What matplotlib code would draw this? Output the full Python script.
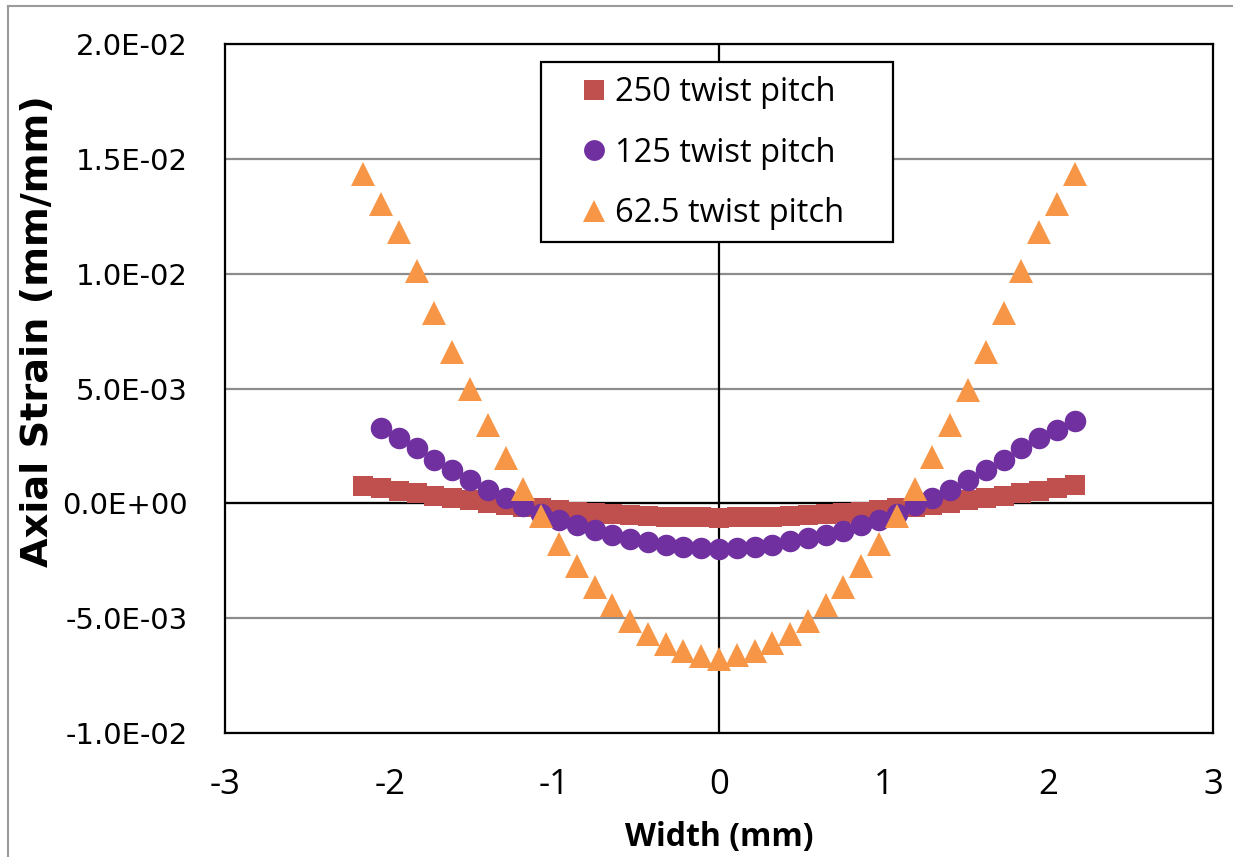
import matplotlib
matplotlib.use("Agg")
import matplotlib.pyplot as plt
from matplotlib.lines import Line2D
from matplotlib.patches import Rectangle

# Width positions (mm)
width_250 = [-2.16, -2.052, -1.944, -1.836, -1.728, -1.62, -1.512, -1.404, -1.296, -1.188,
             -1.08, -0.972, -0.864, -0.756, -0.648, -0.54, -0.432, -0.324, -0.216, -0.108,
             0.0, 0.108, 0.216, 0.324, 0.432, 0.54, 0.648, 0.756, 0.864, 0.972,
             1.08, 1.188, 1.296, 1.404, 1.512, 1.62, 1.728, 1.836, 1.944, 2.052, 2.16]
width_125 = width_250[1:]
width_625 = width_250

# Axial strain (mm/mm)
strain_250 = [0.00077, 0.00066, 0.00055, 0.00044, 0.00033, 0.00023, 0.00013, 0.00003, -0.00006, -0.00014,
              -0.00022, -0.00029, -0.00036, -0.00041, -0.00047, -0.00051, -0.00055, -0.00058, -0.00060, -0.00061,
              -0.00062, -0.00061, -0.00060, -0.00058, -0.00055, -0.00051, -0.00047, -0.00041, -0.00036, -0.00029,
              -0.00022, -0.00014, -0.00006, 0.00003, 0.00013, 0.00023, 0.00033, 0.00044, 0.00055, 0.00066, 0.00078]
strain_125 = [0.00326, 0.00285, 0.00241, 0.00190, 0.00144, 0.00100, 0.00060, 0.00023, -0.00013,
              -0.00047, -0.00071, -0.00096, -0.00118, -0.00139, -0.00156, -0.00170, -0.00183, -0.00190, -0.00195,
              -0.00198, -0.00195, -0.00190, -0.00180, -0.00166, -0.00151, -0.00137, -0.00119, -0.00096, -0.00071,
              -0.00047, -0.00009, 0.00023, 0.00060, 0.00100, 0.00144, 0.00187, 0.00241, 0.00285, 0.00321, 0.00357]
strain_625 = [0.01434, 0.01305, 0.01180, 0.01010, 0.00828, 0.00657, 0.00496, 0.00341, 0.00199, 0.00061,
              -0.00057, -0.00176, -0.00272, -0.00365, -0.00443, -0.00513, -0.00571, -0.00612, -0.00644, -0.00663,
              -0.00676, -0.00659, -0.00645, -0.00609, -0.00571, -0.00513, -0.00443, -0.00365, -0.00272, -0.00176,
              -0.00057, 0.00061, 0.00200, 0.00340, 0.00494, 0.00657, 0.00828, 0.01010, 0.01180, 0.01305, 0.01433]

series_labels = ["250 twist pitch", "125 twist pitch", "62.5 twist pitch"]
x_ticks = [-3, -2, -1, 0, 1, 2, 3]
y_ticks = [-0.01, -0.005, 0.0, 0.005, 0.01, 0.015, 0.02]
y_tick_labels = ["-1.0E-02", "-5.0E-03", "0.0E+00", "5.0E-03", "1.0E-02", "1.5E-02", "2.0E-02"]

RED = "#C0504D"
PURPLE = "#7030A0"
ORANGE = "#F79646"

W, H = 1233, 857
fig = plt.figure(figsize=(W / 100, H / 100), dpi=100)
ax = fig.add_axes([225 / W, 1 - 733 / H, (1213 - 225) / W, (733 - 44) / H])

ax.set_xlim(-3, 3)
ax.set_ylim(-0.01, 0.02)

# horizontal gridlines
for yv in y_ticks:
    ax.axhline(yv, color="#8C8C8C", lw=1.6, zorder=0)
# axes crossing at zero
ax.axhline(0, color="black", lw=1.6, zorder=1)
ax.axvline(0, color="black", lw=1.6, zorder=1)

ax.plot(width_250, strain_250, ls="none", marker="s", ms=15, color=RED, mec=RED, mew=0, zorder=3)
ax.plot(width_125, strain_125, ls="none", marker="o", ms=15.5, color=PURPLE, mec=PURPLE, mew=0, zorder=4)
ax.plot(width_625, strain_625, ls="none", marker="^", ms=17, color=ORANGE, mec=ORANGE, mew=0, zorder=5)

for s in ax.spines.values():
    s.set_color("black")
    s.set_linewidth(1.6)

ax.set_xticks(x_ticks)
ax.set_xticklabels([str(v) for v in x_ticks], fontfamily="Open Sans", fontsize=25)
ax.set_yticks(y_ticks)
ax.set_yticklabels(y_tick_labels, fontfamily="DejaVu Sans", fontsize=21)
ax.tick_params(axis="both", length=0)
ax.tick_params(axis="x", pad=25)
ax.tick_params(axis="y", pad=27)

ax.set_xlabel("Width (mm)", fontfamily="Open Sans", fontweight="bold", fontsize=23, labelpad=14)
fig.text(38 / W, 1 - 331 / H, "Axial Strain (mm/mm)", rotation=90, ha="center", va="center",
         fontfamily="DejaVu Sans", fontweight="bold", fontsize=27.5)

# legend
handles = [
    Line2D([], [], ls="none", marker="s", ms=15, color=RED, mew=0),
    Line2D([], [], ls="none", marker="o", ms=15, color=PURPLE, mew=0),
    Line2D([], [], ls="none", marker="^", ms=16, color=ORANGE, mew=0),
]
leg = ax.legend(handles, series_labels, loc="upper left",
                bbox_to_anchor=((581 - 225) / 988, (733 - 76) / 689),
                frameon=False, prop={"family": "Open Sans", "size": 23.5},
                handlelength=0.8, handletextpad=0.25, labelspacing=0.85,
                borderpad=0.0, borderaxespad=0)
leg.set_zorder(10)
box = Rectangle((541 / W, 1 - 242 / H), (893 - 541) / W, (242 - 62) / H,
                transform=fig.transFigure, facecolor="white", edgecolor="black",
                lw=1.6, zorder=9)
ax.add_artist(box)

# outer chart border (left and top edges)
fig.add_artist(Line2D([8 / W, 8 / W], [0, 1 - 6 / H], transform=fig.transFigure,
                      color="#9A9A9A", lw=1.5))
fig.add_artist(Line2D([8 / W, 1], [1 - 6 / H, 1 - 6 / H], transform=fig.transFigure,
                      color="#9A9A9A", lw=1.5))

fig.savefig("out.png", dpi=100, facecolor="white")
